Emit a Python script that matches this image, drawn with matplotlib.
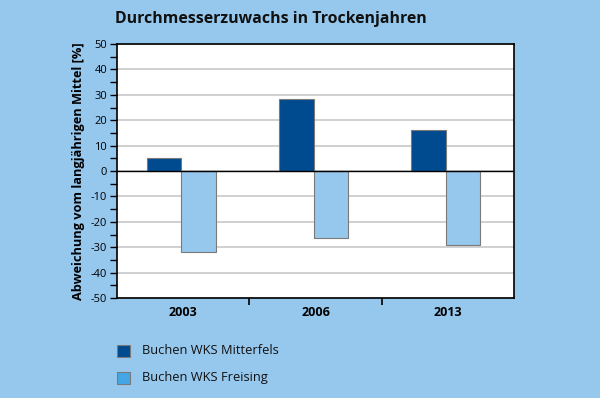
import numpy as np
import matplotlib
matplotlib.use('Agg')
import matplotlib.pyplot as plt
from matplotlib.patches import Rectangle
from matplotlib.ticker import MultipleLocator

plt.rcParams['font.family'] = ['Open Sans', 'DejaVu Sans']
plt.rcParams['axes.unicode_minus'] = False

years = ['2003', '2006', '2013']
mitterfels = [5.2, 28.4, 16.0]
freising = [-32.0, -26.5, -29.3]
series_labels = ['Buchen WKS Mitterfels', 'Buchen WKS Freising']

bg = '#96C8EE'
dark = '#004A8F'
light = '#96C8EE'
edge = '#7a7a7a'

fig = plt.figure(figsize=(6, 3.98), dpi=100, facecolor=bg)
ax = fig.add_axes([117/600, 1 - 298/398, (514-117)/600, (298-44)/398])
ax.set_facecolor('white')

x = np.arange(len(years))
w = 0.26
off = -0.015  # groups sit a little left of the category centre
ax.bar(x + off - w/2, mitterfels, w, color=dark, edgecolor=edge, linewidth=0.8, zorder=3)
ax.bar(x + off + w/2, freising, w, color=light, edgecolor=edge, linewidth=0.8, zorder=3)

ax.set_xlim(-0.5, 2.5)
ax.set_ylim(-50, 50)
ax.yaxis.set_major_locator(MultipleLocator(10))
ax.yaxis.set_minor_locator(MultipleLocator(5))
ax.grid(axis='y', color='#c8c8c8', linewidth=1.2, zorder=0)
ax.axhline(0, color='black', linewidth=1.0, zorder=4)

ax.set_xticks([0.5, 1.5])
ax.set_xticklabels([])
ax.set_xticks(x, minor=True)
ax.set_xticklabels(years, minor=True, fontweight='bold', fontsize=9)
ax.tick_params(axis='x', which='major', length=5, width=1.2, direction='out')
ax.tick_params(axis='x', which='minor', length=0, pad=6)
ax.tick_params(axis='y', which='both', length=5, width=1.0, direction='out', labelsize=8, pad=2)

for s in ax.spines.values():
    s.set_linewidth(1.2)
    s.set_color('black')

ax.set_ylabel('Abweichung vom langjährigen Mittel [%]', fontweight='bold', fontsize=9.2, labelpad=4)

fig.text(115/600, 1 - 19/398, 'Durchmesserzuwachs in Trockenjahren',
         fontsize=11.4, fontweight='bold', va='center', ha='left', color='#111111')

# legend
for i, (lab, col) in enumerate(zip(series_labels, [dark, '#45a6e6'])):
    yc = 351 + i * 27
    fig.patches.append(Rectangle((117/600, 1 - (yc + 6)/398), 13/600, 12/398,
                                 transform=fig.transFigure, facecolor=col,
                                 edgecolor=edge, linewidth=0.8))
    fig.text(142/600, 1 - yc/398, lab, fontsize=9.3, va='center', ha='left', color='#111111')

fig.savefig('out.png', dpi=100, facecolor=bg)
